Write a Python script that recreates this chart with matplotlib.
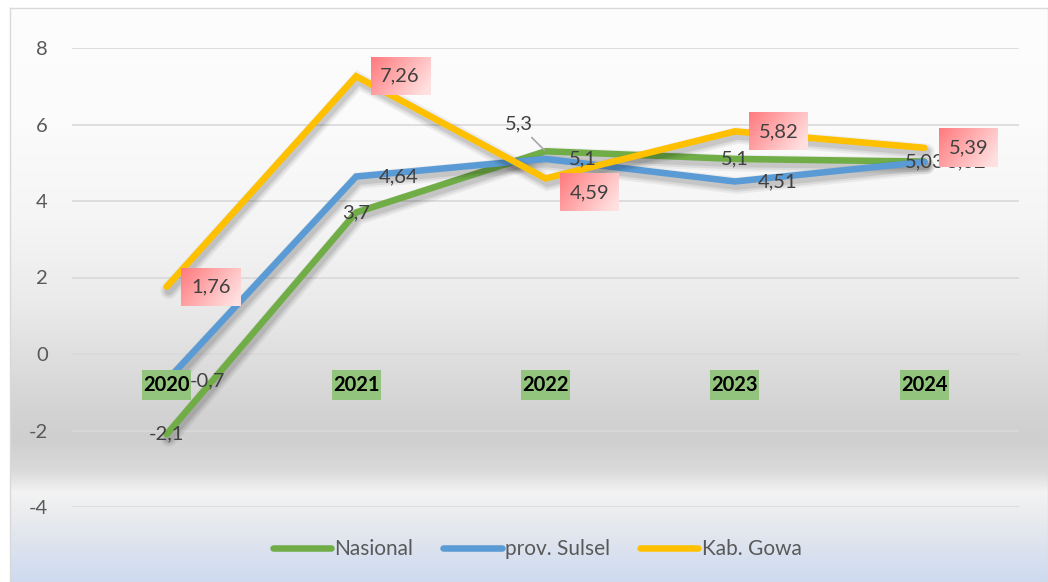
import numpy as np
import matplotlib
matplotlib.use('Agg')
import matplotlib.pyplot as plt
from matplotlib import patheffects as pe
from matplotlib.lines import Line2D
from matplotlib.patches import Rectangle

years = ['2020', '2021', '2022', '2023', '2024']
nasional = [-2.1, 3.7, 5.3, 5.1, 5.03]
sulsel = [-0.7, 4.64, 5.1, 4.51, 5.02]
gowa = [1.76, 7.26, 4.59, 5.82, 5.39]
series_names = ['Nasional', 'prov. Sulsel', 'Kab. Gowa']
colors = ['#70ad47', '#5b9bd5', '#ffc000']
y_ticks = [-4, -2, 0, 2, 4, 6, 8]

plt.rcParams['font.family'] = ['Lato', 'DejaVu Sans']

W, H = 1048, 582
fig = plt.figure(figsize=(W / 100, H / 100), dpi=100)


def px(v):
    # pixels -> points at 100 dpi
    return v * 0.72


def fmt(v):
    return ('%g' % v).replace('.', ',')


# chart area background gradient
bg = fig.add_axes([10 / W, 0, (W - 10) / W, (H - 8) / H], zorder=-5)
rows = np.arange(8, 582)
sy = [8, 120, 220, 300, 354, 410, 440, 470, 486, 492, 520, 582]
cr = [253, 251, 245, 235, 223, 211, 208, 218, 236, 243, 232, 205]
cg = [253, 251, 245, 235, 223, 211, 207, 218, 236, 243, 234, 218]
cb = [253, 251, 245, 235, 223, 211, 207, 218, 236, 243, 238, 240]
grad = np.stack([np.interp(rows, sy, cr), np.interp(rows, sy, cg),
                 np.interp(rows, sy, cb)], axis=-1) / 255.0
bg.imshow(grad[:, None, :], aspect='auto', extent=[0, 1, 0, 1])
bg.set_xticks([])
bg.set_yticks([])
for s in bg.spines.values():
    s.set_color('#d9d9d9')
    s.set_linewidth(1.0)

ax = fig.add_axes([72 / W, (H - 507) / H, (1019 - 72) / W, (507 - 48) / H])
ax.patch.set_visible(False)
ax.set_xlim(-0.5, 4.5)
ax.set_ylim(-4, 8)
ax.set_yticks(y_ticks)
ax.set_yticklabels([str(t) for t in y_ticks])
ax.set_xticks([])
ax.tick_params(axis='y', length=0, pad=px(24), labelsize=14.5, labelcolor='#595959')
ax.grid(axis='y', color='#d9d9d9', linewidth=1.2)
ax.set_axisbelow(True)
for s in ax.spines.values():
    s.set_visible(False)

x = np.arange(len(years))
# soft drop shadow like the office chart
shadow = [pe.SimpleLineShadow(offset=(1.5, -3), shadow_color='k', alpha=0.05, linewidth=12),
          pe.SimpleLineShadow(offset=(1.5, -3), shadow_color='k', alpha=0.07, linewidth=9),
          pe.SimpleLineShadow(offset=(1.5, -3), shadow_color='k', alpha=0.09, linewidth=6),
          pe.Normal()]
for vals, c in zip([nasional, sulsel, gowa], colors):
    ax.plot(x, vals, color=c, lw=4.7, solid_capstyle='round',
            solid_joinstyle='miter', path_effects=shadow, zorder=3)

lab_col = '#404040'
fs = 14.5

# Nasional labels: centered on point
for i, v in enumerate(nasional):
    if i == 2:
        ax.annotate(fmt(v), (i, v), xytext=(px(-27), px(27)), textcoords='offset points',
                    ha='center', va='center', fontsize=fs, color=lab_col, zorder=5,
                    arrowprops=dict(arrowstyle='-', color='#a6a6a6', lw=1.2,
                                    shrinkA=2, shrinkB=1))
    else:
        ax.annotate(fmt(v), (i, v), xytext=(0, 0), textcoords='offset points',
                    ha='center', va='center', fontsize=fs, color=lab_col, zorder=5)

# prov. Sulsel labels: right of point
for i, v in enumerate(sulsel):
    ax.annotate(fmt(v), (i, v), xytext=(px(23), 0), textcoords='offset points',
                ha='left', va='center', fontsize=fs, color=lab_col, zorder=5)

# Kab. Gowa labels: right of point in pink gradient box
gowa_dy = [0, 0, -14, 0, 0]
pink = np.zeros((30, 60, 3))
gx, gy = np.meshgrid(np.linspace(0, 1, 60), np.linspace(0, 1, 30))
t = np.clip(0.75 * gx + 0.35 * gy, 0, 1)
c0 = np.array([255, 122, 126]) / 255.0
c1 = np.array([255, 224, 224]) / 255.0
for k in range(3):
    pink[:, :, k] = c0[k] + (c1[k] - c0[k]) * t
inv = ax.transData.inverted()
for i, v in enumerate(gowa):
    px0, py0 = ax.transData.transform((i, v))
    cx, cy = px0 + 44, py0 + gowa_dy[i]
    (x0, y0) = inv.transform((cx - 29.5, cy - 19))
    (x1, y1) = inv.transform((cx + 29.5, cy + 19))
    ax.imshow(pink, extent=[x0, x1, y0, y1], aspect='auto', zorder=6,
              origin='upper')
    ax.annotate(fmt(v), (i, v), xytext=(px(44), px(gowa_dy[i])), textcoords='offset points',
                ha='center', va='center', fontsize=fs, color=lab_col, zorder=7)

# category labels sitting below the zero line, in green boxes
for i, yr in enumerate(years):
    px0, py0 = ax.transData.transform((i, 0))
    cy = py0 - 31
    (x0, y0) = inv.transform((px0 - 24.5, cy - 15))
    (x1, y1) = inv.transform((px0 + 24.5, cy + 15))
    ax.add_patch(Rectangle((x0, y0), x1 - x0, y1 - y0, fc='#93c47d', ec='none', zorder=8))
    ax.annotate(yr, (i, 0), xytext=(0, px(-31)), textcoords='offset points',
                ha='center', va='center', fontsize=14.5, fontweight='bold', color='black',
                zorder=9)
ax.set_xlim(-0.5, 4.5)
ax.set_ylim(-4, 8)

handles = [Line2D([], [], color=c, lw=4.7, solid_capstyle='round') for c in colors]
fig.legend(handles, series_names, loc='center', bbox_to_anchor=(537 / W, 1 - 549 / H),
           ncol=3, frameon=False, fontsize=15, handlelength=2.8, handletextpad=0.15,
           columnspacing=1.45, labelcolor='#595959')

fig.savefig('out.png', dpi=100)
